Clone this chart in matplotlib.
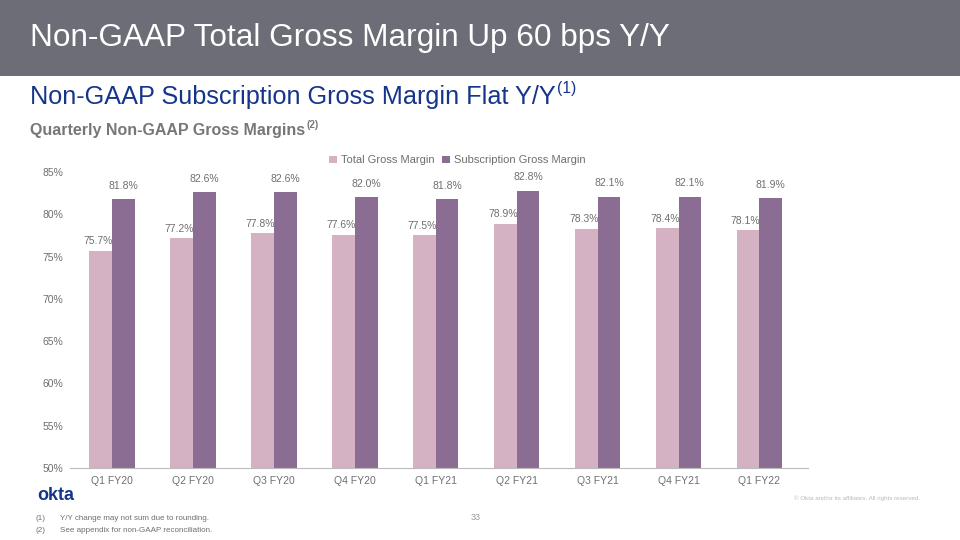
import numpy as np
import matplotlib.pyplot as plt
from matplotlib.patches import Rectangle

quarters = ["Q1 FY20", "Q2 FY20", "Q3 FY20", "Q4 FY20", "Q1 FY21",
            "Q2 FY21", "Q3 FY21", "Q4 FY21", "Q1 FY22"]
total_gm = [75.7, 77.2, 77.8, 77.6, 77.5, 78.9, 78.3, 78.4, 78.1]
subs_gm = [81.8, 82.6, 82.6, 82.0, 81.8, 82.8, 82.1, 82.1, 81.9]
y_ticks = [50, 55, 60, 65, 70, 75, 80, 85]

light = "#d4b2c3"
dark = "#8b6d94"
grey = "#6f6f6f"

plt.rcParams['font.family'] = ['Liberation Sans', 'DejaVu Sans']

fig = plt.figure(figsize=(9.6, 5.4), dpi=100)
renderer = fig.canvas.get_renderer()


def text_sup(xpx, ypx, main, sup, size, **kw):
    # main text plus a small raised footnote marker right after it
    t = fig.text(xpx / 960, 1 - ypx / 540, main, fontsize=size, va="center", ha="left", **kw)
    bb = t.get_window_extent(renderer)
    fig.text(bb.x1 / 960 + 0.001, 1 - (ypx - size * 0.45) / 540, sup,
             fontsize=size * 0.62, va="center", ha="left", **kw)


# header band
fig.patches.append(Rectangle((0, 1 - 76 / 540), 1, 76 / 540, transform=fig.transFigure,
                             facecolor="#6d6d78", edgecolor="none", zorder=0))
fig.text(30 / 960, 1 - 38 / 540, "Non-GAAP Total Gross Margin Up 60 bps Y/Y",
         color="white", fontsize=22.7, va="center", ha="left")
text_sup(30, 97, "Non-GAAP Subscription Gross Margin Flat Y/Y", "(1)", 18.2, color="#15358a")
text_sup(30, 130, "Quarterly Non-GAAP Gross Margins", "(2)", 11.5,
         color="#777777", fontweight="bold")

ax = fig.add_axes([70 / 960, 72 / 540, 738 / 960, 296 / 540])
x = np.arange(len(quarters))
w = 0.28
ax.bar(x - w / 2, total_gm, w, color=light, label="Total Gross Margin")
ax.bar(x + w / 2, subs_gm, w, color=dark, label="Subscription Gross Margin")

for xi, v in zip(x, total_gm):
    ax.text(xi - w / 2 - 0.03, v + 0.5, f"{v:.1f}%", ha="center", va="bottom",
            fontsize=7.5, color=grey)
for xi, v in zip(x, subs_gm):
    ax.text(xi + w / 2, v + 1.0, f"{v:.1f}%", ha="center", va="bottom",
            fontsize=7.5, color=grey)

ax.set_ylim(50, 85)
ax.set_xlim(-0.52, len(quarters) - 0.4)
ax.set_yticks(y_ticks)
ax.set_yticklabels([f"{t}%" for t in y_ticks])
ax.set_xticks(x)
ax.set_xticklabels(quarters)
ax.tick_params(axis="both", length=0, labelsize=7.5, labelcolor=grey)
ax.tick_params(axis="y", pad=5)
ax.tick_params(axis="x", pad=6)
for s in ["top", "right", "left"]:
    ax.spines[s].set_visible(False)
ax.spines["bottom"].set_color("#bbbbbb")

ax.legend(loc="lower center", bbox_to_anchor=(0.525, 1.0), ncol=2, frameon=False,
          fontsize=8, labelcolor=grey, handlelength=0.7, handleheight=0.7,
          handletextpad=0.4, columnspacing=0.6, borderaxespad=0.2)

# footer
fig.text(37 / 960, 1 - 496 / 540, "okta", color="#15358a", fontsize=13,
         fontweight="bold", va="center", ha="left")
fig.text(35 / 960, 1 - 518 / 540, "(1)", color=grey, fontsize=5.8, va="center")
fig.text(60 / 960, 1 - 518 / 540, "Y/Y change may not sum due to rounding.",
         color=grey, fontsize=5.8, va="center")
fig.text(35 / 960, 1 - 530 / 540, "(2)", color=grey, fontsize=5.8, va="center")
fig.text(60 / 960, 1 - 530 / 540, "See appendix for non-GAAP reconciliation.",
         color=grey, fontsize=5.8, va="center")
fig.text(476 / 960, 1 - 518 / 540, "33", color="#999999", fontsize=6.5,
         va="center", ha="center")
fig.text(920 / 960, 1 - 498 / 540, "© Okta and/or its affiliates. All rights reserved.",
         color="#bbbbbb", fontsize=4.5, va="center", ha="right")

fig.savefig("out.png", dpi=100)
